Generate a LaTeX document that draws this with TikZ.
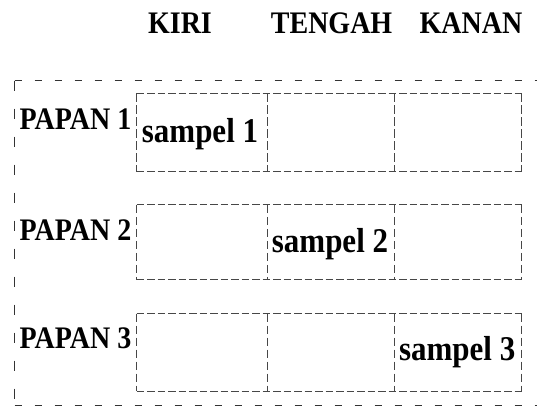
\documentclass[tikz,border=0pt]{standalone}
\usepackage{graphicx}
\usepackage{fontspec}
\setmainfont{Liberation Serif}
\newcommand{\tallt}[1]{\scalebox{1}[1.12]{#1}}
\begin{document}
\begin{tikzpicture}[x=1pt,y=-1pt,
  lbl/.style={inner sep=0pt,font=\fontsize{28}{30}\selectfont\bfseries},
  slbl/.style={inner sep=0pt,font=\fontsize{31}{33}\selectfont\bfseries},
  cellbox/.style={minimum width=#1,minimum height=76pt,inner sep=0pt},
  cellline/.style={draw=black!72,line width=0.9pt},
  hdash/.style={dash pattern=on 7.5pt off 3pt},
  vdash/.style={dash pattern=on 8.5pt off 3.5pt},
  outerh/.style={draw=black!80,line width=1pt,dash pattern=on 7pt off 13pt},
  outerv/.style={draw=black!80,line width=1pt,dash pattern=on 10pt off 18pt}]
\clip (0,0) rectangle (537,408);
% outer frame
\coordinate (oTL) at (14.5,80.5);
\coordinate (oTR) at (560,80.5);
\coordinate (oBL) at (14.5,405);
\coordinate (oBR) at (560,405);
\draw[outerh] (oTL) -- (oTR);
\draw[outerh] (oBL) -- (oBR);
\draw[outerv] (oTL) -- (oBL);
% headers
\node[lbl,anchor=base] (hkiri) at (180,33) {\tallt{KIRI}};
\node[lbl,anchor=base] (htengah) at (331.6,33) {\tallt{TENGAH}};
\node[lbl,anchor=base] (hkanan) at (471,33) {\tallt{KANAN}};
% cells
\foreach \r/\cy/\h in {1/132.5/78, 2/242.3/74.6, 3/352.5/77.4}{
  \node[cellbox=130.1pt,minimum height=\h pt] (c\r1) at (201.8,\cy) {};
  \node[cellbox=127.4pt,minimum height=\h pt] (c\r2) at (330.55,\cy) {};
  \node[cellbox=127.2pt,minimum height=\h pt] (c\r3) at (457.85,\cy) {};
  \draw[cellline,hdash] (c\r1.north west) -- (c\r3.north east);
  \draw[cellline,hdash] (c\r1.south west) -- (c\r3.south east);
  \draw[cellline,vdash] (c\r1.north west) -- (c\r1.south west);
  \draw[cellline,vdash] (c\r1.north east) -- (c\r1.south east);
  \draw[cellline,vdash] (c\r2.north east) -- (c\r2.south east);
  \draw[cellline,vdash] (c\r3.north east) -- (c\r3.south east);
}
% row labels
\node[lbl,anchor=base west] (p1) at (19.5,129.5) {\tallt{PAPAN 1}};
\node[lbl,anchor=base west] (p2) at (19.5,240) {\tallt{PAPAN 2}};
\node[lbl,anchor=base west] (p3) at (19.5,348) {\tallt{PAPAN 3}};
% samples
\node[slbl,anchor=base] (s1) at (200,142) {\tallt{sampel 1}};
\node[slbl,anchor=base] (s2) at (330,252) {\tallt{sampel 2}};
\node[slbl,anchor=base] (s3) at (457.2,360) {\tallt{sampel 3}};
\end{tikzpicture}
\end{document}
